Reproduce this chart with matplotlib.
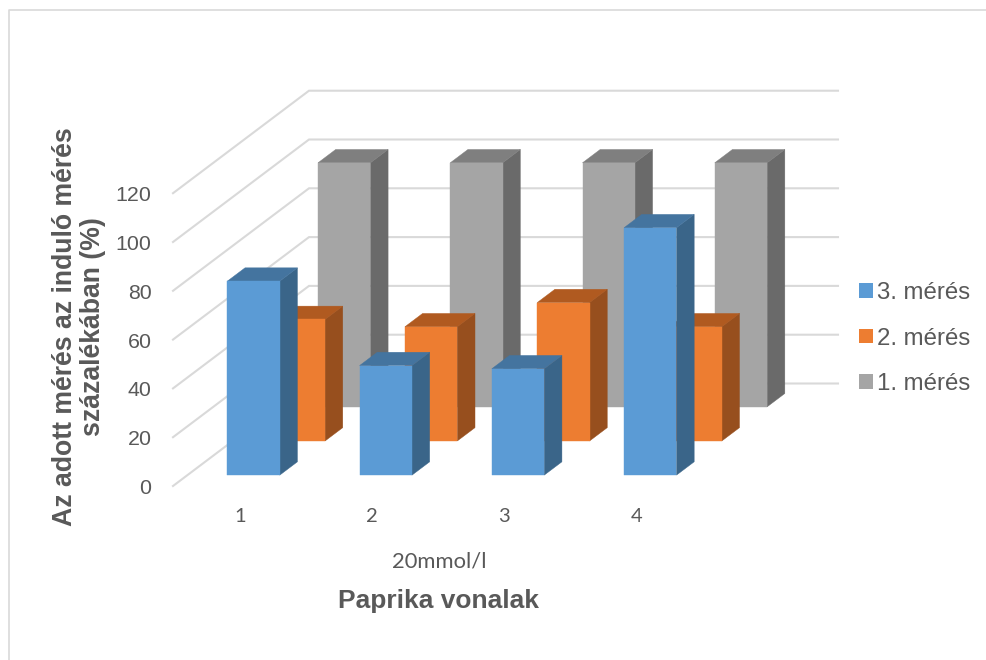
import matplotlib
matplotlib.use('Agg')
import matplotlib.pyplot as plt
from matplotlib.patches import Patch, Polygon

categories = ['1', '2', '3', '4']
series_names = ['1. mérés', '2. mérés', '3. mérés']
meres_1 = [100, 100, 100, 100]
meres_2 = [49.8, 46.8, 56.7, 46.8]
meres_3 = [79.5, 44.9, 43.6, 101.4]
y_ticks = [0, 20, 40, 60, 80, 100, 120]

W, H = 986, 660
CAT_PX = 132.25   # one category in pixels
VAL_PX = 2.44     # one percent in pixels
X0_PX, Y0_PX = 173, 486   # front corner of the floor

# oblique depth: full depth of the box, in data units
DEPTH_X = 136 / CAT_PX
DEPTH_Y = 102.5 / VAL_PX
BAR_W = 52.4 / CAT_PX
BAR_D = 0.13    # bar depth as a share of the full depth
ROW_D = 1 / 3
ROW_GAP = 0.106  # empty floor in front of a bar, same units

GRID = '#d9d9d9'
TEXT = '#595959'
# front, top, side
COLORS = {
    '1. mérés': ('#a5a5a5', '#7f7f7f', '#6a6a6a'),
    '2. mérés': ('#ed7d31', '#b05a20', '#974f1e'),
    '3. mérés': ('#5b9bd5', '#44749f', '#3a6589'),
}

fig = plt.figure(figsize=(W / 100, H / 100), dpi=100)
ax = fig.add_axes([0, 0, 1, 1])
ax.set_xlim(-X0_PX / CAT_PX, (W - X0_PX) / CAT_PX)
ax.set_ylim(-(H - Y0_PX) / VAL_PX, Y0_PX / VAL_PX)
ax.axis('off')

plt.rcParams['font.family'] = ['Liberation Sans', 'DejaVu Sans']


def proj(x, v, d):
    return x + d * DEPTH_X, v + d * DEPTH_Y


def draw_bar(cat, val, row, colors):
    # row 0 is the front one
    start = row * ROW_D + ROW_GAP
    x0 = cat + 0.5 - BAR_W / 2 + start * DEPTH_X
    x1 = x0 + BAR_W
    v0 = start * DEPTH_Y
    v1 = v0 + val
    front = [(x0, v0), (x1, v0), (x1, v1), (x0, v1)]
    side = [(x1, v0), proj(x1, v0, BAR_D), proj(x1, v1, BAR_D), (x1, v1)]
    top = [(x0, v1), (x1, v1), proj(x1, v1, BAR_D), proj(x0, v1, BAR_D)]
    for pts, c in zip((side, top, front), (colors[2], colors[1], colors[0])):
        ax.add_patch(Polygon(pts, closed=True, facecolor=c, edgecolor=c, linewidth=0.3, zorder=3 - row * 0.1))


# gridlines: left wall and back wall
for t in y_ticks:
    bx, bv = proj(0, t, 1)
    ax.plot([0, bx, (838 - X0_PX) / CAT_PX], [t, bv, bv], color=GRID, linewidth=1.5, zorder=1,
            solid_joinstyle='miter')

# back rows first
for row, (name, vals) in zip((2, 1, 0), zip(series_names, (meres_1, meres_2, meres_3))):
    for i, v in enumerate(vals):
        draw_bar(i, v, row, COLORS[name])

# outer frame lines
ax.plot([8.5 / W, 8.5 / W, 1], [0, 1 - 9.5 / H, 1 - 9.5 / H], color=GRID, linewidth=1.2,
        transform=ax.transAxes, clip_on=False)

# value labels
for t in y_ticks:
    ax.text((151.5 - X0_PX) / CAT_PX, t - 1, str(t), ha='right', va='center', fontsize=15.4, color=TEXT)

# category labels
for i, c in enumerate(categories):
    ax.text(i + 0.505, (Y0_PX - 516) / VAL_PX, c, ha='center', va='center',
            fontsize=14.5, color=TEXT, family='Lato')

ax.text((439 - X0_PX) / CAT_PX, (Y0_PX - 561) / VAL_PX, '20mmol/l', ha='center', va='center',
        fontsize=15.8, color=TEXT, family='Lato')
ax.text((439 - X0_PX) / CAT_PX, (Y0_PX - 601) / VAL_PX, 'Paprika vonalak', ha='center', va='center',
        fontsize=19, color=TEXT, fontweight='bold')
ax.text((79.5 - X0_PX) / CAT_PX, (Y0_PX - 327) / VAL_PX,
        'Az adott mérés az induló mérés\nszázalékában (%)', rotation=90, ha='center', va='center',
        fontsize=19.2, color=TEXT, fontweight='bold', linespacing=1.1, multialignment='center')

handles = [Patch(facecolor=COLORS[n][0], label=n) for n in series_names[::-1]]
leg = ax.legend(handles=handles, loc='center left', bbox_to_anchor=(859 / W, 1 - 338.5 / H),
                frameon=False, fontsize=17.3, labelcolor=TEXT, handlelength=0.58, handleheight=0.58,
                handletextpad=0.18, labelspacing=0.97, borderpad=0, borderaxespad=0)

fig.savefig('out.png', dpi=100)
